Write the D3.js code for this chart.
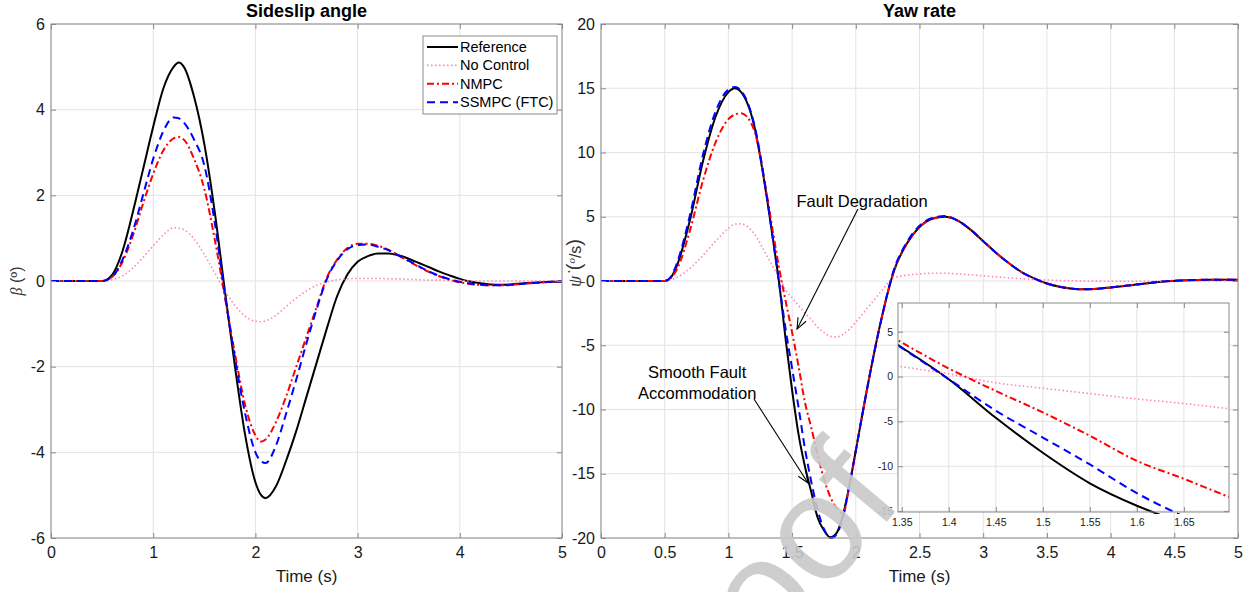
<!DOCTYPE html>
<html>
<head>
<meta charset="utf-8">
<script src="https://cdn.jsdelivr.net/npm/d3@7"></script>
<style>
  body { margin: 0; background: #fff; }
  text { font-family: "Liberation Sans", Arial, Helvetica, sans-serif; }
</style>
</head>
<body>
<svg id="chart" width="1250" height="592"></svg>
<script>
// ----------------------
// Data
// ----------------------
const seriesNames = ["Reference", "No Control", "NMPC", "SSMPC (FTC)"];

// sideslip angle beta (deg)
const tBeta = [0,0.5,0.6,0.7,0.8,0.9,1.0,1.1,1.2,1.25,1.3,1.4,1.5,1.6,1.7,1.8,1.9,2.0,2.05,2.1,
  2.2,2.3,2.4,2.5,2.6,2.7,2.8,2.9,3.0,3.1,3.2,3.3,3.4,3.5,3.6,3.7,3.8,3.9,4.0,4.1,4.2,4.3,4.4,4.5,
  4.6,4.7,4.8,4.9,5.0];
const betaRef = [0,0,0.15,0.7,1.6,2.6,3.6,4.5,5.0,5.1,5.0,4.3,3.2,1.65,-0.2,-2.0,-3.6,-4.7,-4.98,-5.07,
  -4.8,-4.2,-3.5,-2.7,-1.9,-1.1,-0.35,0.15,0.45,0.58,0.64,0.64,0.6,0.52,0.42,0.32,0.22,0.13,0.05,-0.01,
  -0.05,-0.08,-0.09,-0.08,-0.06,-0.04,-0.03,-0.02,-0.01];
const betaNoCtrl = [0,0,0.03,0.12,0.3,0.55,0.82,1.08,1.24,1.23,1.2,0.98,0.62,0.2,-0.22,-0.57,-0.82,-0.94,-0.95,-0.93,
  -0.8,-0.6,-0.4,-0.23,-0.1,-0.02,0.03,0.05,0.06,0.06,0.06,0.05,0.05,0.04,0.03,0.02,0.02,0.01,0.01,0,
  0,0,0,0,0,0,0,0,0];
const betaNMPC = [0,0,0.1,0.45,1.05,1.8,2.5,3.05,3.33,3.36,3.3,2.85,2.15,1.0,-0.35,-1.7,-2.9,-3.6,-3.75,-3.7,
  -3.3,-2.7,-2.0,-1.3,-0.6,0.08,0.5,0.77,0.87,0.87,0.82,0.73,0.6,0.46,0.33,0.21,0.11,0.03,-0.03,-0.07,
  -0.09,-0.1,-0.1,-0.09,-0.07,-0.05,-0.03,-0.02,-0.01];
const betaSSMPC = [0,0,0.1,0.5,1.15,2.0,2.85,3.5,3.82,3.8,3.7,3.3,2.7,1.4,-0.3,-1.8,-3.1,-4.0,-4.2,-4.25,
  -3.85,-3.1,-2.3,-1.45,-0.65,0.05,0.48,0.74,0.84,0.85,0.8,0.72,0.6,0.47,0.34,0.22,0.12,0.04,-0.02,-0.06,
  -0.09,-0.1,-0.1,-0.09,-0.07,-0.05,-0.03,-0.02,-0.01];

// yaw rate (deg/s)
const tYaw = [0,0.5,0.55,0.6,0.7,0.8,0.9,1.0,1.05,1.1,1.2,1.3,1.35,1.4,1.45,1.5,1.55,1.6,1.65,1.7,
  1.75,1.8,1.85,1.9,1.95,2.0,2.1,2.2,2.3,2.4,2.5,2.6,2.7,2.8,2.9,3.0,3.1,3.2,3.3,3.4,3.5,3.6,3.7,3.8,
  3.9,4.0,4.2,4.4,4.6,4.8,5.0];
const yawRef = [0,0,0.3,1.3,4.8,9.3,12.8,14.7,15.0,14.7,12.2,6.6,3.24,-0.3,-4.6,-8.5,-11.9,-14.4,-16.4,-18.4,
  -19.4,-19.95,-19.6,-18.2,-15.9,-13.2,-7.8,-3.0,0.8,2.9,4.2,4.85,5.0,4.7,4.0,3.1,2.2,1.4,0.7,0.2,
  -0.2,-0.45,-0.6,-0.65,-0.6,-0.5,-0.28,-0.05,0.06,0.1,0.1];
const yawNoCtrl = [0,0,0.1,0.3,1.0,2.0,3.1,4.1,4.42,4.45,3.7,2.0,1.1,0.3,-0.7,-1.3,-1.9,-2.5,-3.0,-3.6,
  -4.0,-4.3,-4.35,-4.15,-3.75,-3.2,-2.0,-0.8,0.25,0.45,0.55,0.6,0.6,0.55,0.48,0.4,0.32,0.25,0.18,0.12,
  0.08,0.04,0.02,0.0,-0.01,-0.02,-0.02,-0.01,0,0,0];
const yawNMPC = [0,0,0.25,1.0,4.0,7.8,10.8,12.6,12.95,13.05,11.8,6.8,3.8,0.9,-1.6,-4.0,-6.6,-9.4,-11.4,-13.5,
  -15.4,-16.8,-17.7,-18.1,-15.9,-13.2,-7.8,-3.0,0.8,2.9,4.2,4.85,5.0,4.7,4.0,3.1,2.2,1.4,0.7,0.2,
  -0.2,-0.45,-0.6,-0.65,-0.6,-0.5,-0.28,-0.05,0.06,0.1,0.1];
const yawSSMPC = [0,0,0.35,1.5,5.2,9.8,13.2,14.9,15.1,14.8,12.3,6.7,3.2,-0.3,-3.8,-6.8,-9.8,-13.0,-15.6,-17.8,
  -19.3,-20.0,-19.7,-18.3,-15.9,-13.2,-7.8,-3.0,0.9,3.0,4.3,4.9,5.05,4.7,4.0,3.1,2.2,1.4,0.7,0.2,
  -0.2,-0.45,-0.6,-0.65,-0.6,-0.5,-0.28,-0.05,0.06,0.1,0.1];

// tick values
const betaXTicks = [0,1,2,3,4,5];
const betaYTicks = [-6,-4,-2,0,2,4,6];
const yawXTicks = [0,0.5,1,1.5,2,2.5,3,3.5,4,4.5,5];
const yawYTicks = [-20,-15,-10,-5,0,5,10,15,20];
const insetXTicks = [1.35,1.4,1.45,1.5,1.55,1.6,1.65];
const insetYTicks = [-15,-10,-5,0,5];

// ----------------------
// Styles / layout
// ----------------------
const styles = [
  { color: "#000000", width: 2,   dash: null },          // Reference
  { color: "#ff85c0", width: 1.6, dash: "1.5,2.5" },     // No Control
  { color: "#ff0000", width: 2,   dash: "7,3,2,3" },     // NMPC
  { color: "#0000ff", width: 2,   dash: "8,5" }          // SSMPC
];
const FONT = "Liberation Sans, Arial, Helvetica, sans-serif";
const fmt = d => String(Math.round(d * 100) / 100);

const svg = d3.select("#chart");
let clipId = 0;

function makePanel(box, xDomain, yDomain, xTicks, yTicks) {
  const x = d3.scaleLinear().domain(xDomain).range([box.x0, box.x1]);
  const y = d3.scaleLinear().domain(yDomain).range([box.y1, box.y0]);
  const g = svg.append("g");

  g.append("rect")
    .attr("x", box.x0).attr("y", box.y0)
    .attr("width", box.x1 - box.x0).attr("height", box.y1 - box.y0)
    .attr("fill", "#fff");

  // grid
  g.append("g").selectAll("line").data(xTicks).join("line")
    .attr("x1", d => x(d)).attr("x2", d => x(d))
    .attr("y1", box.y0).attr("y2", box.y1)
    .attr("stroke", "#e3e3e3");
  g.append("g").selectAll("line").data(yTicks).join("line")
    .attr("y1", d => y(d)).attr("y2", d => y(d))
    .attr("x1", box.x0).attr("x2", box.x1)
    .attr("stroke", "#e3e3e3");

  const id = "clip" + (clipId++);
  svg.append("clipPath").attr("id", id).append("rect")
    .attr("x", box.x0).attr("y", box.y0 - 2)
    .attr("width", box.x1 - box.x0).attr("height", box.y1 - box.y0 + 4);
  const plot = g.append("g").attr("clip-path", `url(#${id})`);

  return { x, y, g, plot, box };
}

function drawLines(p, t, series) {
  const line = d3.line()
    .x((d, i) => p.x(t[i]))
    .y(d => p.y(d))
    .curve(d3.curveMonotoneX);
  series.forEach((s, k) => {
    p.plot.append("path")
      .attr("d", line(s))
      .attr("fill", "none")
      .attr("stroke", styles[k].color)
      .attr("stroke-width", styles[k].width)
      .attr("stroke-dasharray", styles[k].dash)
      .attr("stroke-linejoin", "round");
  });
}

function drawAxes(p, xTicks, yTicks, fs, padX, padY) {
  const b = p.box;
  const style = a => {
    a.select(".domain").remove();
    a.attr("font-family", FONT).attr("font-size", fs);
    a.selectAll("line").attr("stroke", "#8a8a8a");
    a.selectAll("text").attr("fill", "#1a1a1a");
  };
  p.g.append("g").attr("transform", `translate(0,${b.y1})`)
    .call(d3.axisBottom(p.x).tickValues(xTicks).tickSize(-5).tickPadding(padX).tickFormat(fmt))
    .call(style);
  p.g.append("g").attr("transform", `translate(0,${b.y0})`)
    .call(d3.axisTop(p.x).tickValues(xTicks).tickSize(-5).tickFormat(""))
    .call(style);
  p.g.append("g").attr("transform", `translate(${b.x0},0)`)
    .call(d3.axisLeft(p.y).tickValues(yTicks).tickSize(-5).tickPadding(padY).tickFormat(fmt))
    .call(style);
  p.g.append("g").attr("transform", `translate(${b.x1},0)`)
    .call(d3.axisRight(p.y).tickValues(yTicks).tickSize(-5).tickFormat(""))
    .call(style);
  p.g.append("rect")
    .attr("x", b.x0).attr("y", b.y0)
    .attr("width", b.x1 - b.x0).attr("height", b.y1 - b.y0)
    .attr("fill", "none").attr("stroke", "#8a8a8a").attr("stroke-width", 1);
}

// ----------------------
// Sideslip angle panel
// ----------------------
const left = makePanel({ x0: 51, x1: 562, y0: 24, y1: 538 }, [0, 5], [-6, 6], betaXTicks, betaYTicks);
drawLines(left, tBeta, [betaRef, betaNoCtrl, betaNMPC, betaSSMPC]);
drawAxes(left, betaXTicks, betaYTicks, 16, 9, 6);

// ----------------------
// Yaw rate panel
// ----------------------
const right = makePanel({ x0: 601, x1: 1238, y0: 24, y1: 538 }, [0, 5], [-20, 20], yawXTicks, yawYTicks);
drawLines(right, tYaw, [yawRef, yawNoCtrl, yawNMPC, yawSSMPC]);
drawAxes(right, yawXTicks, yawYTicks, 16, 9, 6);

// inset (zoom of the yaw rate drop)
const inset = makePanel({ x0: 898, x1: 1229, y0: 303, y1: 512 }, [1.346, 1.698], [-15.1, 8.2], insetXTicks, insetYTicks);
drawLines(inset, tYaw, [yawRef, yawNoCtrl, yawNMPC, yawSSMPC]);
drawAxes(inset, insetXTicks, insetYTicks, 10.5, 7, 5);

// ----------------------
// Titles and labels
// ----------------------
[[left, "Sideslip angle"], [right, "Yaw rate"]].forEach(([p, title]) => {
  const cx = (p.box.x0 + p.box.x1) / 2;
  svg.append("text").attr("x", cx).attr("y", 17)
    .attr("text-anchor", "middle").attr("font-weight", "bold").attr("font-size", 18)
    .text(title);
  svg.append("text").attr("x", cx).attr("y", 582)
    .attr("text-anchor", "middle").attr("font-size", 17).attr("fill", "#1a1a1a")
    .text("Time (s)");
});

const betaLabel = svg.append("text")
  .attr("transform", "translate(22,281) rotate(-90)")
  .attr("text-anchor", "middle").attr("font-size", 16).attr("fill", "#333");
betaLabel.append("tspan").attr("font-family", "Liberation Serif, serif").attr("font-style", "italic").text("β");
betaLabel.append("tspan").text(" (º)");

const yawLabel = svg.append("text")
  .attr("transform", "translate(581,263) rotate(-90)")
  .attr("text-anchor", "middle").attr("font-size", 16).attr("fill", "#333");
yawLabel.append("tspan").attr("font-family", "Liberation Serif, serif").attr("font-style", "italic").attr("font-size", 18).text("ψ\u0307");
yawLabel.append("tspan").attr("font-size", 20).text(" (");
yawLabel.append("tspan").attr("font-family", "Liberation Serif, serif").attr("font-style", "italic").attr("font-size", 11).attr("dy", -6).text("o");
yawLabel.append("tspan").attr("dy", 6).text("/s");
yawLabel.append("tspan").attr("font-size", 20).text(")");

// ----------------------
// Legend
// ----------------------
const lg = svg.append("g").attr("transform", "translate(423,36)");
lg.append("rect").attr("width", 134).attr("height", 78)
  .attr("fill", "#fff").attr("stroke", "#8a8a8a");
seriesNames.forEach((name, k) => {
  const yy = 11 + k * 18.4;
  lg.append("line").attr("x1", 4).attr("x2", 35).attr("y1", yy).attr("y2", yy)
    .attr("stroke", styles[k].color).attr("stroke-width", styles[k].width)
    .attr("stroke-dasharray", styles[k].dash);
  lg.append("text").attr("x", 37).attr("y", yy).attr("dy", "0.35em")
    .attr("font-size", 14.5).text(name);
});

// ----------------------
// Annotations on the yaw panel
// ----------------------
svg.append("defs").append("marker")
  .attr("id", "arrowHead").attr("viewBox", "-12 -6 14 12")
  .attr("refX", 0).attr("refY", 0)
  .attr("markerWidth", 14).attr("markerHeight", 12)
  .attr("markerUnits", "userSpaceOnUse").attr("orient", "auto")
  .append("path").attr("d", "M-11,-4.5 L0,0 L-11,4.5")
  .attr("fill", "none").attr("stroke", "#000").attr("stroke-width", 1.1);

const notes = [
  { lines: ["Fault Degradation"], tx: 2.049, ty: 6.23, from: [2.017, 5.6], to: [1.539, -3.74] },
  { lines: ["Smooth Fault", "Accommodation"], tx: 0.755, ty: -7.08, from: [1.201, -9.18], to: [1.625, -15.72] }
];
notes.forEach(n => {
  n.lines.forEach((s, i) => {
    svg.append("text")
      .attr("x", right.x(n.tx)).attr("y", right.y(n.ty) + i * 21)
      .attr("dy", "0.36em").attr("text-anchor", "middle")
      .attr("font-size", 16.5).text(s);
  });
  svg.append("line")
    .attr("x1", right.x(n.from[0])).attr("y1", right.y(n.from[1]))
    .attr("x2", right.x(n.to[0])).attr("y2", right.y(n.to[1]))
    .attr("stroke", "#000").attr("stroke-width", 1.1)
    .attr("marker-end", "url(#arrowHead)");
});

// watermark (partly outside the figure, as in the source)
svg.append("text")
  .attr("transform", "translate(905,500) rotate(-50)")
  .attr("text-anchor", "end")
  .attr("font-size", 150)
  .attr("fill", "#c9c9c9")
  .attr("opacity", 0.9)
  .text("Proof");
</script>
</body>
</html>
